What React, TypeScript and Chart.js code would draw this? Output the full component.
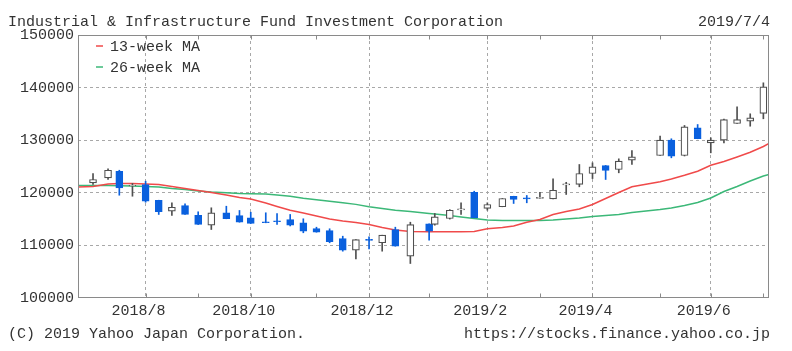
import { useEffect, useRef } from 'react';
import { Chart, registerables } from 'chart.js';

Chart.register(...registerables);

// ---------- texts ----------
const titleText = 'Industrial & Infrastructure Fund Investment Corporation';
const dateText = '2019/7/4';
const copyrightText = '(C) 2019 Yahoo Japan Corporation.';
const urlText = 'https://stocks.finance.yahoo.co.jp';

// ---------- axis range ----------
const axisStart = '2018-07-01';
const axisEnd = '2019-07-04';

// ---------- weekly candles (first trading day of each week) ----------
const candleDates = [
  '2018-07-09', '2018-07-17', '2018-07-23', '2018-07-30', '2018-08-06', '2018-08-13', '2018-08-20', '2018-08-27',
  '2018-09-03', '2018-09-10', '2018-09-18', '2018-09-25', '2018-10-01', '2018-10-09', '2018-10-15', '2018-10-22',
  '2018-10-29', '2018-11-05', '2018-11-12', '2018-11-19', '2018-11-26', '2018-12-03', '2018-12-10', '2018-12-17',
  '2018-12-25', '2019-01-04', '2019-01-07', '2019-01-15', '2019-01-21', '2019-01-28', '2019-02-04', '2019-02-12',
  '2019-02-18', '2019-02-25', '2019-03-04', '2019-03-11', '2019-03-18', '2019-03-25', '2019-04-01', '2019-04-08',
  '2019-04-15', '2019-04-22', '2019-05-07', '2019-05-13', '2019-05-20', '2019-05-27', '2019-06-03', '2019-06-10',
  '2019-06-17', '2019-06-24', '2019-07-01',
];
const opens = [
  121900, 122850, 124100, 121300, 121580, 118590, 116500, 117590,
  115740, 113840, 116200, 115690, 115250, 114420, 114600, 114920,
  114300, 113210, 112830, 111310, 109090, 111050, 110500, 113000,
  107950, 114110, 114000, 115110, 116750, 120110, 117020, 117340,
  119350, 118950, 118950, 118860, 121500, 121580, 123670, 125190,
  124430, 126200, 127090, 130000, 127090, 132360, 129500, 130000,
  133170, 133610, 135080,
];
const highs = [
  123670, 124560, 124290, 121770, 122200, 118590, 118100, 117910,
  116390, 117150, 117450, 116640, 116310, 116200, 116070, 115880,
  115060, 113460, 113160, 111750, 111120, 111640, 111940, 113460,
  114410, 114110, 116070, 116800, 118100, 120300, 118100, 118920,
  119350, 119490, 120110, 122660, 122000, 125380, 125700, 125190,
  126460, 128040, 130760, 130270, 132800, 132980, 130460, 134000,
  136350, 135020, 140910,
];
const lows = [
  121580, 122530, 119540, 119350, 118210, 115880, 115690, 115880,
  113970, 113020, 115060, 114410, 114160, 114300, 113970, 113700,
  112400, 112510, 110500, 108900, 107450, 109350, 108900, 109850,
  106560, 110990, 113840, 115000, 115870, 115250, 116690, 117340,
  117970, 118100, 118950, 118860, 119680, 121140, 122700, 122530,
  123800, 125380, 127090, 126650, 127000, 130270, 127600, 129500,
  133170, 132660, 134070,
];
const closes = [
  122530, 124290, 120950, 121400, 118400, 116390, 117260, 115880,
  113970, 116200, 115060, 114410, 114160, 114300, 114490, 113840,
  112700, 112510, 110690, 109090, 111120, 110950, 111940, 109850,
  113970, 112700, 115440, 116690, 116850, 115250, 117780, 118920,
  118730, 118850, 119050, 120490, 121600, 123670, 124940, 124240,
  126010, 126840, 130000, 126960, 132550, 130270, 130000, 133930,
  133930, 134260, 140150,
];

// ---------- moving averages (axis start, each candle week, axis end) ----------
const maDates = [axisStart, ...candleDates, axisEnd];
const ma13 = [
  121100, 121200, 121670, 121770, 121770, 121670, 121580, 121200, 120820,
  120440, 120060, 119580, 119110, 118820, 118060, 117400, 116690,
  116160, 115590, 115020, 114640, 114350, 113970, 113400, 112930,
  112640, 112590, 112590, 112590, 112590, 112640, 113160, 113400,
  113690, 114410, 114920, 115870, 116450, 116920, 117780, 118920,
  120060, 121140, 122090, 122620, 123330, 124110, 125230, 125950,
  126810, 127700, 128800, 129370,
];
const ma26 = [
  121390, 121390, 121390, 121330, 121290, 121200, 121100, 120820, 120630,
  120340, 120150, 120000, 119870, 119810, 119770, 119580, 119350,
  118950, 118700, 118400, 118100, 117800, 117350, 117000, 116700,
  116450, 116070, 115970, 115680, 115400, 115110, 114830, 114730,
  114730, 114730, 114730, 114830, 115020, 115210, 115500, 115680,
  115870, 116260, 116830, 117110, 117590, 118160, 119010, 120250,
  121200, 122240, 123190, 123480,
];
const maLabels = ['13-week MA', '26-week MA'];

// ---------- ticks ----------
const yTickValues = [100000, 110000, 120000, 130000, 140000, 150000];
const monthTickDates = [
  '2018-08-06', '2018-09-03', '2018-10-01', '2018-11-05', '2018-12-03', '2019-01-04',
  '2019-02-04', '2019-03-04', '2019-04-01', '2019-05-07', '2019-06-03', '2019-07-01',
];
const monthTickLabels = ['2018/8', '', '2018/10', '', '2018/12', '', '2019/2', '', '2019/4', '', '2019/6', ''];

// ---------- styles ----------
const FONT = '"Liberation Mono", "DejaVu Sans Mono", monospace';
const textColor = '#333333';
const frameColor = '#8a8a8a';
const gridColor = '#a8a8a8';
const upFill = '#ffffff';
const upLine = '#505050';
const downColor = '#0a60de';
const redColor = '#f04a4a';
const greenColor = '#3cb878';

const base = Date.UTC(2018, 6, 1);
const dayOf = (s: string) => {
  const [y, m, d] = s.split('-').map(Number);
  return Math.round((Date.UTC(y, m - 1, d) - base) / 86400000);
};

const monthTickDays = monthTickDates.map(dayOf);

const decorPlugin = {
  id: 'decor',
  afterDraw(chart: any) {
    const { ctx, chartArea: a, scales } = chart;
    ctx.save();
    // frame
    ctx.strokeStyle = frameColor;
    ctx.lineWidth = 1;
    ctx.setLineDash([]);
    const l = Math.round(a.left) + 0.5;
    const t = Math.round(a.top) + 0.5;
    const r = Math.round(a.right) - 0.5;
    const b = Math.round(a.bottom) - 0.5;
    ctx.strokeRect(l, t, r - l, b - t);
    // small month tick marks at top & bottom
    ctx.beginPath();
    monthTickDays.forEach((d) => {
      const x = Math.round(scales.x.getPixelForValue(d)) + 0.5;
      ctx.moveTo(x, b);
      ctx.lineTo(x, b - 4);
      ctx.moveTo(x, t);
      ctx.lineTo(x, t + 4);
    });
    ctx.stroke();

    // texts
    ctx.fillStyle = textColor;
    ctx.font = `15px ${FONT}`;
    ctx.textBaseline = 'alphabetic';
    ctx.textAlign = 'left';
    ctx.fillText(titleText, 8, 26);
    ctx.fillText(copyrightText, 8, 338);
    ctx.textAlign = 'right';
    ctx.fillText(dateText, 770, 26);
    ctx.fillText(urlText, 770, 338);

    // legend inside plot
    const lineDs = chart.data.datasets.filter((ds: any) => ds.type === 'line');
    ctx.textAlign = 'left';
    ctx.textBaseline = 'middle';
    lineDs.forEach((ds: any, i: number) => {
      const y = a.top + 11 + i * 21;
      ctx.strokeStyle = ds.borderColor;
      ctx.lineWidth = 1.5;
      ctx.beginPath();
      ctx.moveTo(a.left + 18, y);
      ctx.lineTo(a.left + 25, y);
      ctx.stroke();
      ctx.fillStyle = textColor;
      ctx.fillText(ds.label, a.left + 32, y + 1);
    });
    ctx.restore();
  },
};

export default function App() {
  const canvasRef = useRef<HTMLCanvasElement>(null);

  useEffect(() => {
    document.body.style.margin = '0';
    const canvas = canvasRef.current;
    if (!canvas) return;

    const isUp = closes.map((c, i) => c >= opens[i]);
    const bodyData = candleDates.map((d, i) => ({ x: dayOf(d), y: [opens[i], closes[i]] }));
    const wickData = candleDates.map((d, i) => ({ x: dayOf(d), y: [lows[i], highs[i]] }));

    const chart = new Chart(canvas, {
      type: 'bar',
      data: {
        datasets: [
          {
            type: 'bar',
            label: 'body',
            data: bodyData as any,
            backgroundColor: isUp.map((u) => (u ? upFill : downColor)),
            borderColor: isUp.map((u) => (u ? upLine : downColor)),
            borderWidth: 1.2,
            borderSkipped: false,
            barThickness: 7,
            minBarLength: 1,
            grouped: false,
          } as any,
          {
            type: 'bar',
            label: 'wick',
            data: wickData as any,
            backgroundColor: isUp.map((u) => (u ? upLine : downColor)),
            borderWidth: 0,
            barThickness: 1,
            grouped: false,
          } as any,
          {
            type: 'line',
            label: maLabels[0],
            data: maDates.map((d, i) => ({ x: dayOf(d), y: ma13[i] })),
            borderColor: redColor,
            borderWidth: 1.5,
            pointRadius: 0,
            tension: 0,
            fill: false,
          } as any,
          {
            type: 'line',
            label: maLabels[1],
            data: maDates.map((d, i) => ({ x: dayOf(d), y: ma26[i] })),
            borderColor: greenColor,
            borderWidth: 1.5,
            pointRadius: 0,
            tension: 0,
            fill: false,
          } as any,
        ],
      },
      options: {
        responsive: false,
        animation: false,
        devicePixelRatio: 1,
        events: [],
        layout: { padding: { top: 35, right: 23, bottom: 28, left: 0 } },
        plugins: {
          legend: { display: false },
          tooltip: { enabled: false },
        },
        scales: {
          x: {
            type: 'linear',
            offset: false,
            min: dayOf(axisStart),
            max: dayOf(axisEnd),
            afterBuildTicks: (axis: any) => {
              axis.ticks = monthTickDays.map((v) => ({ value: v }));
            },
            afterFit: (axis: any) => {
              axis.height = 25;
            },
            ticks: {
              autoSkip: false,
              maxRotation: 0,
              minRotation: 0,
              padding: 4,
              labelOffset: -7,
              color: textColor,
              font: { family: FONT, size: 15 },
              callback: (value: any) => {
                const i = monthTickDays.indexOf(Number(value));
                return i >= 0 ? monthTickLabels[i] : '';
              },
            },
            grid: {
              offset: false,
              drawTicks: false,
              lineWidth: 1,
              color: (ctx: any) => {
                const v = ctx.tick ? ctx.tick.value : null;
                const i = monthTickDays.indexOf(v);
                return i >= 0 && monthTickLabels[i] ? gridColor : 'rgba(0,0,0,0)';
              },
              borderDash: [3, 3],
            } as any,
            border: { display: false, dash: [3, 3] },
          },
          y: {
            type: 'linear',
            min: 100000,
            max: 150000,
            afterBuildTicks: (axis: any) => {
              axis.ticks = yTickValues.map((v) => ({ value: v }));
            },
            afterFit: (axis: any) => {
              axis.width = 78;
            },
            ticks: {
              padding: 4,
              color: textColor,
              font: { family: FONT, size: 15 },
              callback: (value: any) => String(value),
            },
            grid: {
              drawTicks: false,
              lineWidth: 1,
              color: (ctx: any) => {
                const v = ctx.tick ? ctx.tick.value : null;
                return v === 100000 || v === 150000 ? 'rgba(0,0,0,0)' : gridColor;
              },
              borderDash: [3, 3],
            } as any,
            border: { display: false, dash: [3, 3] },
          },
        },
      },
      plugins: [decorPlugin],
    } as any);

    return () => chart.destroy();
  }, []);

  return (
    <div style={{ width: 792, height: 351, background: '#ffffff' }}>
      <canvas ref={canvasRef} width={792} height={351} style={{ display: 'block' }} />
    </div>
  );
}
